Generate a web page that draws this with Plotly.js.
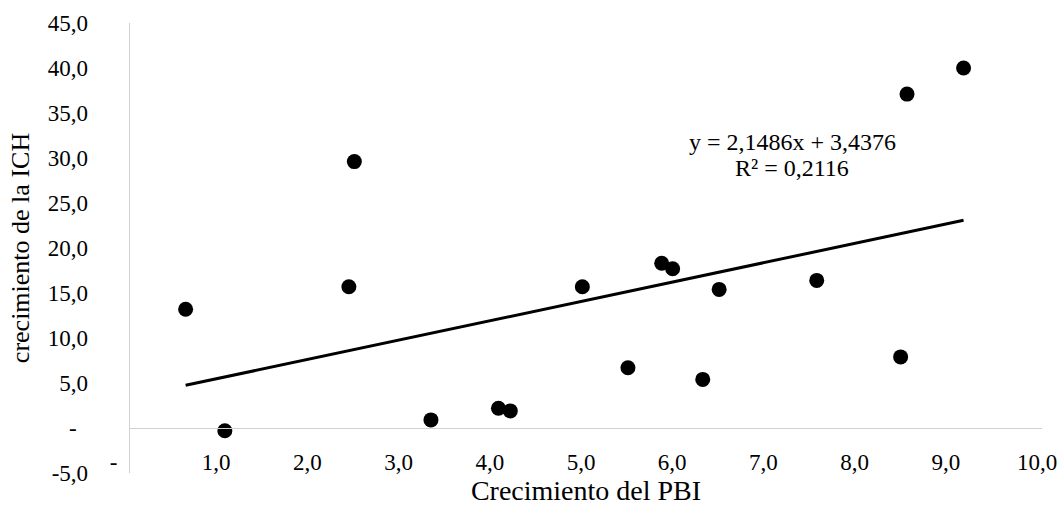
<!DOCTYPE html>
<html>
<head>
<meta charset="utf-8">
<script src="https://cdn.plot.ly/plotly-3.0.1.min.js"></script>
<style>html,body{margin:0;padding:0;background:#fff;}#chart{width:1060px;height:506px;}</style>
</head>
<body>
<div id="chart"></div>
<script>
// Crecimiento del PBI (x) vs crecimiento de la ICH (y)
var pbi = [0.61, 1.04, 2.40, 2.46, 3.30, 4.04, 4.17, 4.96, 5.46, 5.83, 5.95, 6.28, 6.46, 7.53, 8.45, 8.52, 9.14];
var ich = [13.2, -0.3, 15.7, 29.6, 0.9, 2.2, 1.9, 15.7, 6.7, 18.3, 17.7, 5.4, 15.4, 16.4, 7.9, 37.1, 40.0];

// Linear trendline coefficients (as shown on the chart)
var slope = 2.1486;
var intercept = 3.4376;
var r2 = 0.2116;
var trendLabel = ["y = 2,1486x + 3,4376", "R² = 0,2116"];

var xTickVals = [0, 1, 2, 3, 4, 5, 6, 7, 8, 9, 10];
var xTickText = ["-\u2007\u2007", "1,0", "2,0", "3,0", "4,0", "5,0", "6,0", "7,0", "8,0", "9,0", "10,0"];
var yTickVals = [-5, 0, 5, 10, 15, 20, 25, 30, 35, 40, 45];
var yTickText = ["-5,0", "-\u2007", "5,0", "10,0", "15,0", "20,0", "25,0", "30,0", "35,0", "40,0", "45,0"];

var xMin = Math.min.apply(null, pbi);
var xMax = Math.max.apply(null, pbi);
var trendX = [xMin, xMax];
var trendY = trendX.map(function (v) { return slope * v + intercept; });

var font = "Liberation Serif";

var traces = [
  {
    type: "scatter", mode: "markers", x: pbi, y: ich,
    marker: {color: "#000000", size: 15},
    hoverinfo: "skip", showlegend: false
  },
  {
    type: "scatter", mode: "lines", x: trendX, y: trendY,
    line: {color: "#000000", width: 3},
    hoverinfo: "skip", showlegend: false
  }
];

var layout = {
  width: 1060, height: 506,
  margin: {l: 130, r: 18, t: 23, b: 33},
  paper_bgcolor: "#ffffff", plot_bgcolor: "#ffffff",
  font: {family: font, color: "#000000", size: 23},
  showlegend: false,
  xaxis: {
    range: [0, 10], anchor: "free", position: 0.1,
    tickmode: "array", tickvals: xTickVals, ticktext: xTickText,
    showgrid: false, zeroline: false, showline: true,
    linecolor: "#d0d0d0", linewidth: 1.3, ticks: "",
    ticklabelstandoff: 13, ticklabelshift: -5,
    tickfont: {family: font, size: 23, color: "#000000"},
    title: {text: "Crecimiento del PBI", font: {family: font, size: 28, color: "#000000"}, standoff: 5}
  },
  yaxis: {
    range: [-5, 45],
    tickmode: "array", tickvals: yTickVals, ticktext: yTickText,
    showgrid: false, zeroline: false, showline: true,
    linecolor: "#d0d0d0", linewidth: 1.3, ticks: "",
    ticklabelstandoff: 36,
    tickfont: {family: font, size: 23, color: "#000000"},
    title: {text: "crecimiento de la ICH", font: {family: font, size: 26, color: "#000000"}, standoff: 10}
  },
  annotations: [
    {
      x: 7.26, y: 31.75, xref: "x", yref: "y",
      text: trendLabel[0], showarrow: false,
      align: "center", font: {family: font, size: 24, color: "#000000"}
    },
    {
      x: 7.26, y: 28.85, xref: "x", yref: "y",
      text: trendLabel[1], showarrow: false,
      align: "center", font: {family: font, size: 24, color: "#000000"}
    }
  ]
};

Plotly.newPlot("chart", traces, layout, {displayModeBar: false, staticPlot: true});
</script>
</body>
</html>
